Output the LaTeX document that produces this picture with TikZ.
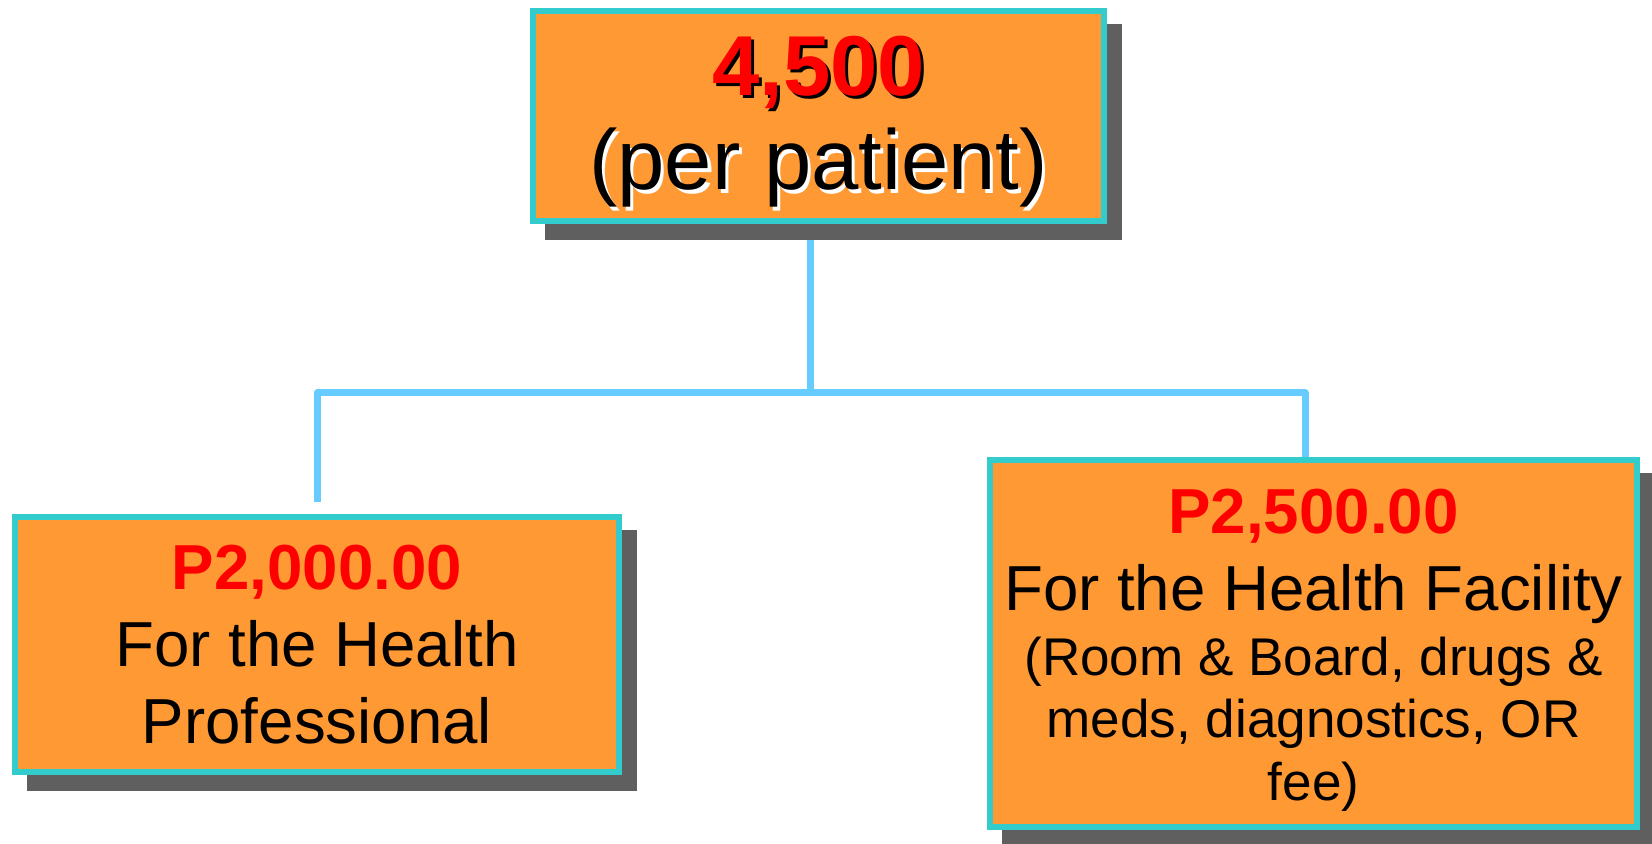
\documentclass[tikz,border=0pt]{standalone}
\usepackage{fontspec}
\setmainfont{Liberation Sans}
\usetikzlibrary{shadows,backgrounds}
\definecolor{boxfill}{HTML}{FF9933}
\definecolor{boxline}{HTML}{33CCCC}
\definecolor{linkblue}{HTML}{66CCFF}
\definecolor{shadowgray}{HTML}{5F5F5F}
\definecolor{amount}{HTML}{FF0000}
\tikzset{box/.style={rectangle,draw=boxline,fill=boxfill,line width=0.06cm,align=center,inner sep=0pt,
  drop shadow={shadow xshift=0.15cm,shadow yshift=-0.16cm,fill=shadowgray,draw=shadowgray,line width=0.06cm,opacity=1}}}
\tikzset{link/.style={draw=linkblue,line width=0.07cm,line join=round}}
\newcommand{\shadowtext}[2]{\rlap{\kern0.9pt\raisebox{-0.9pt}{\color{#1}#2}}#2}
\newcommand{\detailsize}{\fontsize{15.1pt}{18pt}\selectfont}

\begin{document}
\begin{tikzpicture}
  \useasboundingbox (0,0) rectangle (16.52,8.43);
  \node[box,minimum width=5.71cm,minimum height=2.10cm,font=\fontsize{24.2pt}{27pt}\selectfont] (T) at (8.185,7.27)
    {\rule{0pt}{21pt}{\bfseries\color{amount}\shadowtext{black}{4,500}}\\
     \shadowtext{white}{(per patient)}};
  \node[box,minimum width=6.04cm,minimum height=2.55cm,font=\fontsize{18.1pt}{21.9pt}\selectfont] (P) at (3.17,1.985)
    {{\bfseries\color{amount}P2,000.00}\\ For the Health\\ Professional};
  \node[box,minimum width=6.47cm,minimum height=3.67cm,font=\fontsize{18.1pt}{21.9pt}\selectfont] (F) at (13.135,1.995)
    {\rule{0pt}{16.7pt}{\bfseries\color{amount}P2,500.00}\\ For the Health Facility\\[-3.6pt]
     {\detailsize (Room \& Board, drugs \&}\\[-4.2pt]
     {\detailsize meds, diagnostics, OR}\\[-3.9pt]
     {\detailsize fee)}};
  \coordinate (S) at (8.10,4.50);
  \coordinate (D) at (13.05,0);
  \begin{scope}[on background layer]
    \draw[link] (T.south -| S) -- (S);
    \draw[link,shorten <=0.12cm] (P.north) |- (S) -| (F.north -| D);
  \end{scope}
\end{tikzpicture}
\end{document}
